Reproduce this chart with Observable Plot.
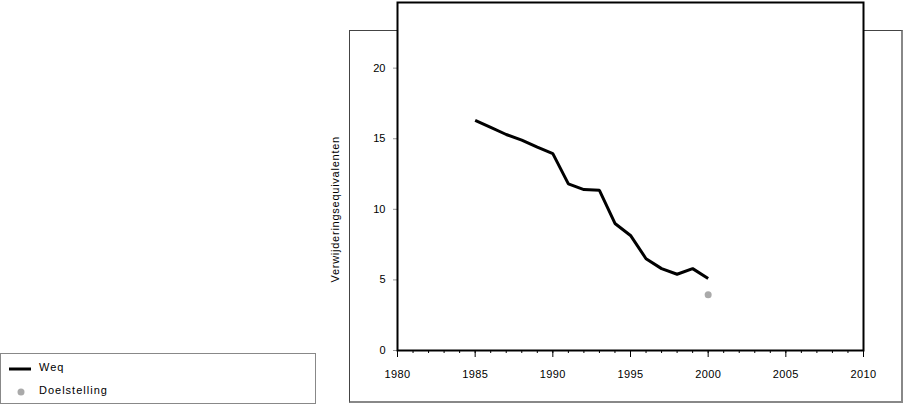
<!DOCTYPE html>
<html><head><meta charset="utf-8">
<script src="https://cdn.jsdelivr.net/npm/d3@7"></script>
<script src="https://cdn.jsdelivr.net/npm/@observablehq/plot@0.6"></script>
<style>
body{margin:0;background:#fff;font-family:"Liberation Sans",Arial,sans-serif;}
#wrap{position:relative;width:904px;height:404px;overflow:hidden;}
#outer{position:absolute;left:349px;top:30px;width:551px;height:370px;border-top:1px solid #444;border-left:1px solid #444;border-right:2px solid #888;border-bottom:2px solid #888;}
#chart{position:absolute;left:0;top:0;}
#chart svg g[aria-label="text"] text{letter-spacing:0.75px;}
#chart svg g[aria-label="x-axis tick label"] text{letter-spacing:0.4px;}
#legend{position:absolute;left:0;top:353px;width:314px;height:49px;border:1px solid #888;font-size:11px;color:#000;letter-spacing:1px;}
.item{position:absolute;left:0;height:16px;display:flex;align-items:center;}
.item svg{margin-left:6px;margin-right:8px;}
</style></head>
<body>
<div id="wrap">
  <div id="outer"></div>
  <div id="chart"></div>
  <div id="legend"></div>
</div>
<script>
const years = [1985,1986,1987,1988,1989,1990,1991,1992,1993,1994,1995,1996,1997,1998,1999,2000];
const weq = [16.3,15.8,15.3,14.9,14.4,13.95,11.8,11.4,11.35,9.0,8.15,6.5,5.8,5.4,5.8,5.1];
const targetYears = [2000];
const targetValues = [3.95];
const xTicks = [1980,1985,1990,1995,2000,2005,2010];
const minorTicks = d3.range(1980, 2011);
const yTicks = [0,5,10,15,20];
const seriesNames = ["Weq","Doelstelling"];
const yLabel = "Verwijderingsequivalenten";

const lineData = years.map((y,i)=>({year:y, value:weq[i]}));
const dotData = targetYears.map((y,i)=>({year:y, value:targetValues[i]}));
const labelData = [{text:yLabel, x:xTicks[0], y:(yTicks[0]+yTicks[yTicks.length-1])/2}];

const chart = Plot.plot({
  width:904, height:404,
  marginLeft:397, marginRight:41, marginTop:2, marginBottom:54,
  style:{background:"transparent", fontFamily:"Liberation Sans, Arial, sans-serif", fontSize:"11px", color:"black", overflow:"visible"},
  x:{domain:[1980,2010]},
  y:{domain:[0,24.65]},
  marks:[
    Plot.frame({fill:"white", stroke:null}),
    Plot.axisX({ticks:minorTicks, tickSize:3, text:null, label:null}),
    Plot.axisX({ticks:xTicks, tickSize:7, tickPadding:13, tickFormat:"d", label:null}),
    Plot.axisY({ticks:yTicks, tickSize:4, tickPadding:8, stroke:"#999", fill:"black", label:null}),
    Plot.text(labelData, {x:"x", y:"y", text:"text", rotate:-90, dx:-62, fill:"black", textAnchor:"middle"}),
    Plot.line(lineData, {x:"year", y:"value", stroke:"black", strokeWidth:3, strokeLinejoin:"miter", strokeLinecap:"butt"}),
    Plot.dot(dotData, {x:"year", y:"value", r:3.5, fill:"#aaa", stroke:null}),
    Plot.frame({stroke:"black", strokeWidth:2})
  ]
});
document.getElementById("chart").appendChild(chart);

const legend = document.getElementById("legend");
legend.innerHTML = `
<div class="item" style="top:5px"><svg width="24" height="16"><line x1="2" x2="24" y1="10" y2="10" stroke="black" stroke-width="3"/></svg><span>${seriesNames[0]}</span></div>
<div class="item" style="top:28px"><svg width="24" height="16"><circle cx="14" cy="10" r="3.5" fill="#aaa"/></svg><span>${seriesNames[1]}</span></div>`;
</script>
</body></html>
